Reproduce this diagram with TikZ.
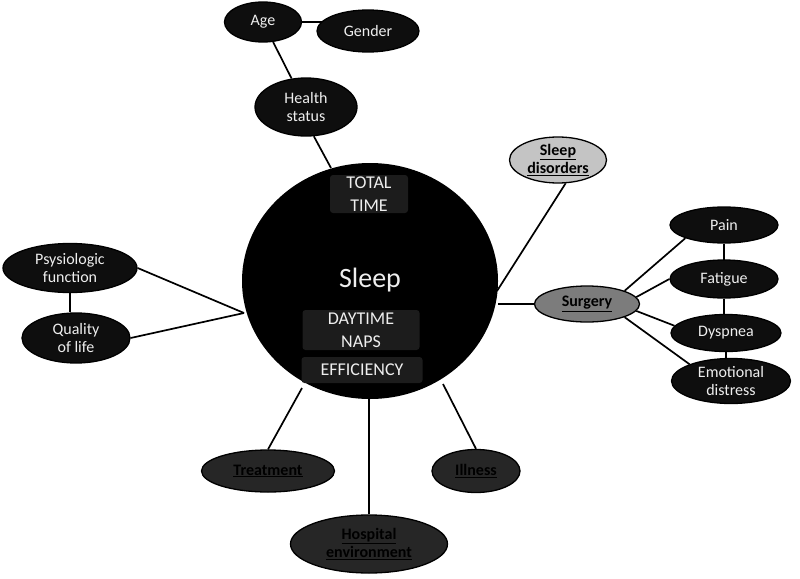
\documentclass[tikz,border=0pt]{standalone}
\usepackage{fontspec}
\setmainfont{Carlito}
\usetikzlibrary{shapes.geometric,backgrounds}
\definecolor{txtw}{HTML}{EEEEEE}
\definecolor{boxg}{HTML}{1C1C1C}
\definecolor{nodedark}{HTML}{0E0E0E}
\definecolor{nodemid}{HTML}{262626}
\definecolor{nodegray}{HTML}{7C7C7C}
\definecolor{nodelight}{HTML}{C4C4C4}
\tikzset{
  bub/.style={ellipse, draw=black, line width=1.3pt, inner sep=0pt, align=center,
    font=\fontsize{16}{18.5}\selectfont},
  darkbub/.style={bub, fill=nodedark, text=txtw},
  midbub/.style={bub, fill=nodemid, text=black, font=\fontsize{16}{18.5}\selectfont\bfseries},
  graybub/.style={bub, fill=nodegray, text=black, font=\fontsize{16}{18.5}\selectfont\bfseries},
  lightbub/.style={bub, fill=nodelight, text=black, font=\fontsize{16}{18.5}\selectfont\bfseries},
  inbox/.style={fill=boxg, rounded corners=3pt, text=txtw, align=center, inner sep=0pt,
    font=\fontsize{18}{23}\selectfont},
  conn/.style={line width=1.7pt, black},
}
\begin{document}
\begin{tikzpicture}[x=1pt,y=-1pt]
\useasboundingbox (0,0) rectangle (800,578);
% central node
\node[ellipse, fill=black, minimum width=256pt, minimum height=236pt, inner sep=0pt] (sleep) at (370,281) {};
\node[inbox, minimum width=78pt, minimum height=38pt] (tt) at (369,194) {TOTAL\\TIME};
\node[text=txtw, font=\fontsize{28}{32}\selectfont] (sl) at (370,280) {Sleep};
\node[inbox, minimum width=117pt, minimum height=40pt] (dn) at (361,330) {DAYTIME\\NAPS};
\node[inbox, minimum width=121pt, minimum height=26pt] (ef) at (362,370) {EFFICIENCY};

% surrounding nodes
\node[darkbub, minimum width=77pt, minimum height=40pt] (age) at (263,22) {Age};
\node[darkbub, minimum width=102pt, minimum height=42pt] (gender) at (368,31) {Gender};
\node[darkbub, minimum width=102pt, minimum height=58pt] (health) at (306,107) {Health\\status};
\node[lightbub, minimum width=97pt, minimum height=46pt] (sd) at (558,160) {\underline{Sleep}\\\underline{disorders}};
\node[graybub, minimum width=105pt, minimum height=36pt] (surg) at (587,304) {\underline{Surgery}};
\node[darkbub, minimum width=108pt, minimum height=36pt] (pain) at (724,225) {Pain};
\node[darkbub, minimum width=108pt, minimum height=38pt] (fat) at (724,279) {Fatigue};
\node[darkbub, minimum width=110pt, minimum height=37pt] (dysp) at (726,333) {Dyspnea};
\node[darkbub, minimum width=119pt, minimum height=45pt] (emo) at (731,381) {Emotional\\distress};
\node[darkbub, minimum width=134pt, minimum height=49pt] (psy) at (70,268) {Psysiologic\\function};
\node[darkbub, minimum width=108pt, minimum height=50pt] (qol) at (76,338) {Quality\\of life};
\node[midbub, minimum width=133pt, minimum height=42pt] (treat) at (268,471) {\underline{Treatment}};
\node[midbub, minimum width=88pt, minimum height=43pt] (ill) at (476,471) {\underline{Illness}};
\node[midbub, minimum width=157pt, minimum height=58pt] (hosp) at (369,544) {\underline{Hospital}\\\underline{environment}};

% connection points on the central circle
\coordinate (cT) at (331,168);
\coordinate (cSD) at (497,291);
\coordinate (cR) at (498,304);
\coordinate (cL) at (244,313);
\coordinate (cTr) at (302,388);
\coordinate (cIl) at (443,384);

\begin{scope}[on background layer]
\draw[conn] (age) -- (age -| gender);
\draw[conn] (age) -- (health);
\draw[conn] (health.-75) -- (cT);
\draw[conn] (sd.-72) -- (cSD);
\draw[conn] (surg) -- (cR);
\draw[conn] (surg.north east) -- (pain.south west);
\draw[conn] (surg.8) -- (fat.west);
\draw[conn] (surg.-8) -- (dysp.172);
\draw[conn] (surg.south east) -- (emo.158);
\draw[conn] (pain) -- (pain |- fat);
\draw[conn] (fat.south) -- (fat.south |- dysp.north);
\draw[conn] (dysp.south) -- (dysp.south |- emo.north);
\draw[conn] (psy.east) -- (cL);
\draw[conn] (qol.east) -- (cL);
\draw[conn] (psy.south) -- (psy.south |- qol.north);
\draw[conn] (treat.north) -- (cTr);
\draw[conn] (ill.north) -- (cIl);
\draw[conn] (hosp) -- (hosp |- sleep);
\end{scope}
\end{tikzpicture}
\end{document}
